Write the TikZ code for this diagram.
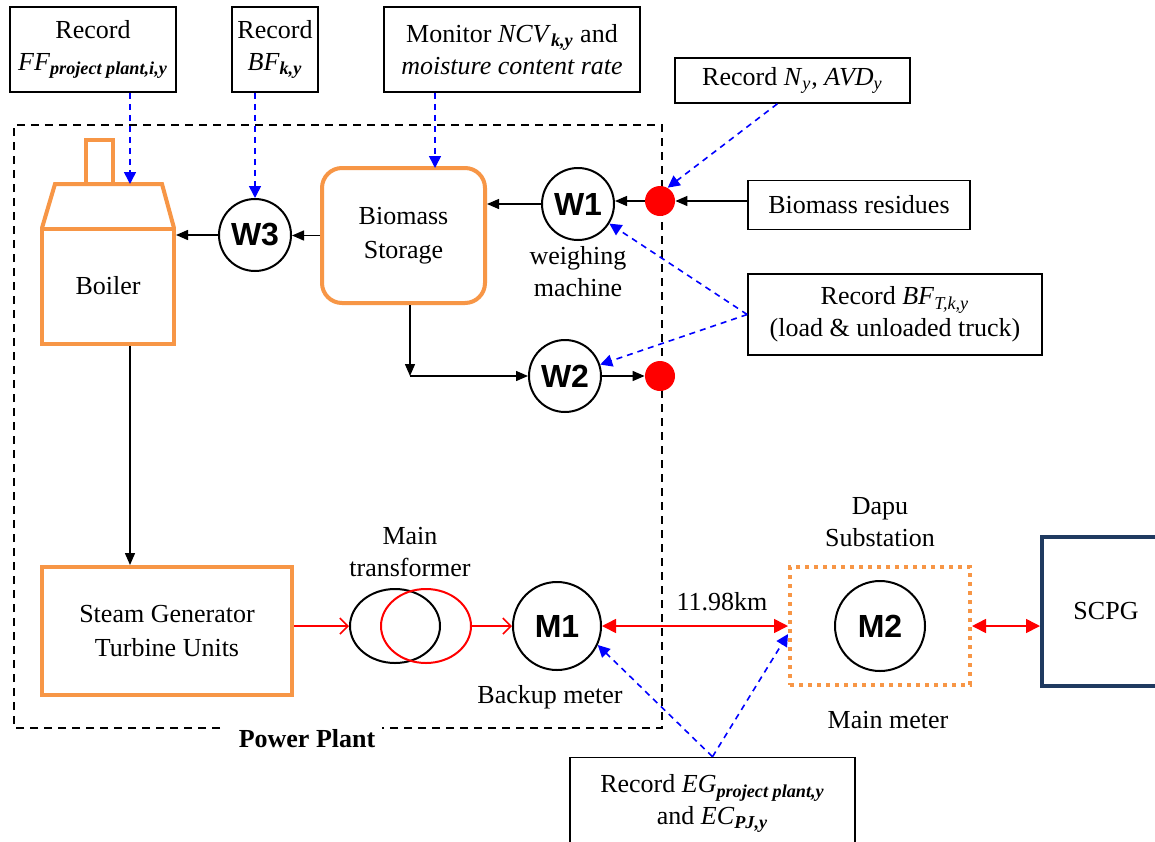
\documentclass[tikz,border=0pt]{standalone}
\usepackage{fontspec}
\setmainfont{Liberation Serif}
\newfontfamily\meterfont{Liberation Sans}
\usetikzlibrary{arrows.meta,shapes.geometric}
\definecolor{boxorange}{HTML}{F79646}
\definecolor{navyline}{HTML}{1F3A60}
\newcommand{\isub}[1]{\textsubscript{\itshape #1}}
\tikzset{
  every node/.style={font=\fontsize{13}{16}\selectfont},
  recbox/.style={draw=black, line width=0.8pt, align=center, inner sep=0pt},
  orangebox/.style={draw=boxorange, line width=2pt, align=center, inner sep=0pt},
  orangeline/.style={draw=boxorange, line width=2pt, line join=miter},
  meter/.style={circle, draw=black, line width=1pt, inner sep=0pt,
    font=\meterfont\bfseries\fontsize{16}{18}\selectfont},
  reddot/.style={circle, fill=red, minimum size=15pt, inner sep=0pt},
  flow/.style={-{Triangle[length=6pt,width=5pt]}, line width=0.7pt},
  bluearrow/.style={-{Triangle[length=6pt,width=6pt]}, draw=blue, dash pattern=on 3pt off 2.5pt, line width=0.8pt},
  redopen/.style={-{Straight Barb[length=4pt,width=8pt]}, draw=red, line width=0.8pt},
  reddouble/.style={{Triangle[length=7pt,width=7pt]}-{Triangle[length=7pt,width=7pt]}, draw=red, fill=red, line width=0.8pt},
  plantline/.style={draw=black, dash pattern=on 4pt off 3pt, line width=1pt},
  lab/.style={align=center, inner sep=0pt}
}
\begin{document}
\begin{tikzpicture}[x=0.5pt,y=-0.5pt]
\clip (0,0) rectangle (1155,841);
\fill[white] (0,0) rectangle (1155,841);

% power plant boundary
\draw[plantline] (220,728) -- (14,728) -- (14,125) -- (662,125) -- (662,728) -- (382,728);
\node[lab, font=\bfseries\fontsize{13}{16}\selectfont] (pp) at (307,739) {Power Plant};

% top record boxes
\node[recbox, minimum width=83pt, minimum height=42.5pt] (box1) at (93,49.5)
  {Record\\\textit{FF}\isub{\bfseries project plant,i,y}};
\node[recbox, minimum width=43pt, minimum height=42.5pt] (box2) at (275,49.5)
  {Record\\\textit{BF}\isub{\bfseries k,y}};
\node[recbox, minimum width=128pt, minimum height=42.5pt] (box3) at (512,49.5)
  {Monitor \textit{NCV}\isub{\bfseries k,y} and\\\textit{moisture content rate}};
\node[recbox, minimum width=117.5pt, minimum height=22.5pt] (box4) at (792.5,80.5)
  {Record \textit{N}\isub{y}, \textit{AVD}\isub{y}};

% boiler
\node[orangebox, minimum width=66pt, minimum height=57.5pt] (boiler) at (108,286) {Boiler};
\draw[orangeline] (42,228) -- (55,184) -- (162,184) -- (174,228);
\draw[orangeline] (86,184) -- (86,140) -- (113,140) -- (113,184);
\coordinate (bt) at (130,184);

% weighing meters and storage
\node[meter, minimum size=36pt] (W3) at (255,235) {W3};
\node[orangebox, rounded corners=10pt, minimum width=81.5pt, minimum height=67.5pt] (storage) at (403.5,235.5)
  {Biomass\\[1pt]Storage};
\coordinate (sttop) at (435,168);
\node[meter, minimum size=36pt] (W1) at (578,204) {W1};
\node[lab] (wm) at (578,272) {weighing\\machine};
\node[meter, minimum size=36pt] (W2) at (565,376) {W2};

\node[reddot] (dot1) at (660,201) {};
\node[reddot] (dot2) at (660,376) {};

\node[recbox, minimum width=111pt, minimum height=24.5pt] (resid) at (859,205) {Biomass residues};
\node[recbox, minimum width=147pt, minimum height=40.5pt] (bft) at (895,314.5)
  {Record \textit{BF}\isub{T,k,y}\\(load \& unloaded truck)};

% black flows
\draw[flow] (dot1.east -| resid.west) -- (dot1.east);
\draw[flow] (dot1.west) -- (dot1.west -| W1.east);
\draw[flow] (W1.west) -- (W1.west -| storage.east);
\draw[flow] (storage.west) -- (storage.west -| W3.east);
\draw[flow] (W3.west) -- (W3.west -| boiler.east);
\coordinate (corner) at (410,376);
\draw[flow] (storage.south -| corner) -- (corner);
\draw[flow] (corner) -- (W2.west);
\draw[flow] (W2.east) -- (dot2.west);

% blue record arrows (top)
\draw[bluearrow] (box1.south -| bt) -- (bt);
\draw[bluearrow] (box2.south -| W3.north) -- (W3.north);
\draw[bluearrow] (box3.south -| sttop) -- (sttop);
\draw[bluearrow] (box4.237) -- (dot1.60);
\draw[bluearrow] (bft.west) -- (W1.-32);
\draw[bluearrow] (bft.west) -- (W2.18);

% lower section
\node[orangebox, minimum width=125pt, minimum height=64pt] (steam) at (167,631)
  {Steam Generator\\[1pt]Turbine Units};
\draw[flow] (boiler.south -| bt) -- (steam.north -| bt);

\node[ellipse, draw=black, line width=1pt, minimum width=45pt, minimum height=37pt, inner sep=0pt] (tr1) at (395,626) {};
\node[ellipse, draw=red, line width=1pt, minimum width=45pt, minimum height=37pt, inner sep=0pt] (tr2) at (426,626) {};
\node[lab] (mt) at (410,552) {Main\\transformer};

\node[meter, minimum size=44pt] (M1) at (557,626) {M1};
\node[lab] (bm) at (550,697) {Backup meter};

\node[draw=boxorange, line width=2pt, dash pattern=on 2pt off 2.5pt, minimum width=90pt, minimum height=59pt, inner sep=0pt] (sub) at (880,626) {};
\node[meter, minimum size=45pt] (M2) at (880,626) {M2};
\node[lab] (dapu) at (880,522) {Dapu\\Substation};
\node[lab] (mm) at (888,720) {Main meter};

\node[draw=navyline, line width=2pt, minimum width=64pt, minimum height=74.5pt, inner sep=0pt] (scpg) at (1106,611.5) {SCPG};

\draw[redopen] (steam.east |- tr1.west) -- (tr1.west);
\draw[redopen] (tr2.east) -- (M1.west);
\draw[reddouble] (M1.east) -- (sub.west);
\node[lab] (km) at (722,602) {11.98km};
\draw[reddouble] (sub.east) -- (scpg.west |- sub.east);

\node[recbox, minimum width=142.5pt, minimum height=46pt] (eg) at (712.5,803.5)
  {Record \textit{EG}\isub{\bfseries project plant,y}\\and \textit{EC}\isub{\bfseries PJ,y}};
\draw[bluearrow] (eg.north) -- (M1.-25);
\draw[bluearrow] (eg.north) -- (sub.185);
\end{tikzpicture}
\end{document}
